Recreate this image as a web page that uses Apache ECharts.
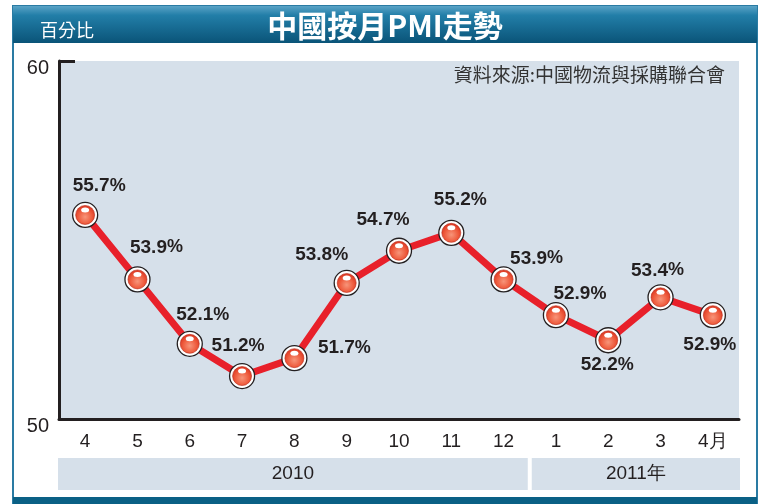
<!DOCTYPE html>
<html>
<head>
<meta charset="utf-8">
<script src="https://cdn.jsdelivr.net/npm/echarts@6/dist/echarts.min.js"></script>
<style>
html,body{margin:0;padding:0;background:#fff;}
#c{width:770px;height:504px;}
</style>
</head>
<body>
<div id="c"></div>
<script>
var months = ['4','5','6','7','8','9','10','11','12','1','2','3','4月'];
var pmi = [55.7, 53.9, 52.1, 51.2, 51.7, 53.8, 54.7, 55.2, 53.9, 52.9, 52.2, 53.4, 52.9];
var years = ['2010', '2011年'];
var yearSpans = [9, 4];
var yTicks = [50, 60];
var title = '中國按月PMI走勢';
var unit = '百分比';
var source = '資料來源:中國物流與採購聯合會';

// label placement (style only)
var labelOffsets = [[14,-29],[19,-32],[13,-29],[-4,-30],[50,-10],[-25,-28],[-16,-31],[9,-33],[33,-21],[24,-21],[-1,25],[-3,-27],[-3,30]];

var chart = echarts.init(document.getElementById('c'), null, {renderer:'canvas'});
var NARROW = '"Liberation Sans Narrow","Arial Narrow","Liberation Sans",Arial,sans-serif';
var CJK = '"Noto Sans CJK TC","Noto Sans CJK SC",sans-serif';

var gridL = 59, gridR = 739, gridT = 61, gridB = 419;
var catW = (gridR - gridL) / months.length;

var graphics = [
  {type:'rect', shape:{x:13,y:6,width:744,height:498}, style:{fill:'#fff', stroke:'#2a7ba3', lineWidth:2}, z:-10},
  {type:'rect', shape:{x:13,y:6,width:744,height:37},
    style:{fill:new echarts.graphic.LinearGradient(0,0,0,1,[{offset:0,color:'#5aa3c6'},{offset:0.25,color:'#227ea8'},{offset:1,color:'#0a5478'}])}, z:-9},
  {type:'rect', shape:{x:13,y:497,width:744,height:7}, style:{fill:'#0a6085'}, z:-9},
  {type:'text', x:40, y:30, style:{text:unit, fill:'#fff', font:'18px '+CJK, verticalAlign:'middle'}},
  {type:'text', x:385, y:26, style:{text:title, fill:'#fff', font:'bold 30px '+CJK, align:'center', verticalAlign:'middle'}},
  {type:'text', x:725, y:75, style:{text:source, fill:'#333', font:'19px '+CJK, align:'right', verticalAlign:'middle'}, z:10}
];
var start = 0;
for (var i = 0; i < years.length; i++) {
  var x0 = gridL + start * catW + (i === 0 ? -1 : 2);
  var x1 = gridL + (start + yearSpans[i]) * catW + (i === years.length - 1 ? 1 : -2);
  graphics.push({type:'rect', shape:{x:x0, y:458, width:x1-x0, height:32}, style:{fill:'#d6e0ea'}, z:-5});
  graphics.push({type:'text', x:(x0+x1)/2, y:474, style:{text:years[i], fill:'#231f20', font:'19px '+NARROW, align:'center', verticalAlign:'middle'}});
  start += yearSpans[i];
}

var labelData = pmi.map(function(v, i){
  return {value:v, label:{offset:labelOffsets[i]}};
});

chart.setOption({
  animation:false,
  graphic:graphics,
  grid:{left:gridL, right:770-gridR, top:gridT, bottom:504-gridB, show:true, backgroundColor:'#d6e0ea', borderWidth:0},
  xAxis:{
    type:'category', data:months, boundaryGap:true,
    axisLine:{lineStyle:{color:'#231f20', width:3}},
    axisTick:{inside:true, length:7, lineStyle:{color:'#231f20', width:3}},
    axisLabel:{color:'#231f20', fontSize:19, fontFamily:NARROW, margin:13},
    splitLine:{show:false}
  },
  yAxis:{
    type:'value', min:yTicks[0], max:yTicks[1], interval:yTicks[1]-yTicks[0],
    axisLine:{show:true, lineStyle:{color:'#231f20', width:3}},
    axisTick:{show:true, inside:true, length:16, lineStyle:{color:'#231f20', width:3}},
    axisLabel:{margin:10, formatter:'{a|{value}}',
      rich:{a:{color:'#231f20', fontSize:20, fontFamily:'"Liberation Sans",Arial,sans-serif', padding:[14,0,0,0]}}},
    splitLine:{show:false}
  },
  series:[
    {type:'line', data:pmi, showSymbol:false, z:2,
      lineStyle:{color:'#e8202a', width:7}, silent:true},
    {type:'scatter', data:pmi, symbol:'circle', symbolSize:25, z:3,
      itemStyle:{color:'#fff', borderColor:'#231f20', borderWidth:1.3, opacity:1}, silent:true},
    {type:'scatter', data:labelData, symbol:'circle', symbolSize:19, z:4,
      itemStyle:{
        opacity:1,
        color:new echarts.graphic.RadialGradient(0.5,0.6,0.6,[{offset:0,color:'#f7957a'},{offset:0.6,color:'#ee5a3c'},{offset:1,color:'#d8321f'}]),
        borderColor:'#b52a1a', borderWidth:0.6},
      label:{show:true, position:'inside', opacity:1, color:'#231f20', fontWeight:'bold',
        formatter:function(p){return '{v|'+p.value.toFixed(1)+'}{p|%}';},
        rich:{
          v:{fontSize:19, fontWeight:'bold', color:'#231f20', opacity:1, fontFamily:'"Liberation Sans",Arial,sans-serif'},
          p:{fontSize:18, color:'#231f20', opacity:1, fontFamily:NARROW}
        }},
      silent:true},
    {type:'scatter', data:pmi, symbol:'circle', symbolSize:[8,5], symbolOffset:[0,-5], z:5,
      itemStyle:{color:'#fff', opacity:1}, silent:true}
  ]
});
</script>
</body>
</html>
